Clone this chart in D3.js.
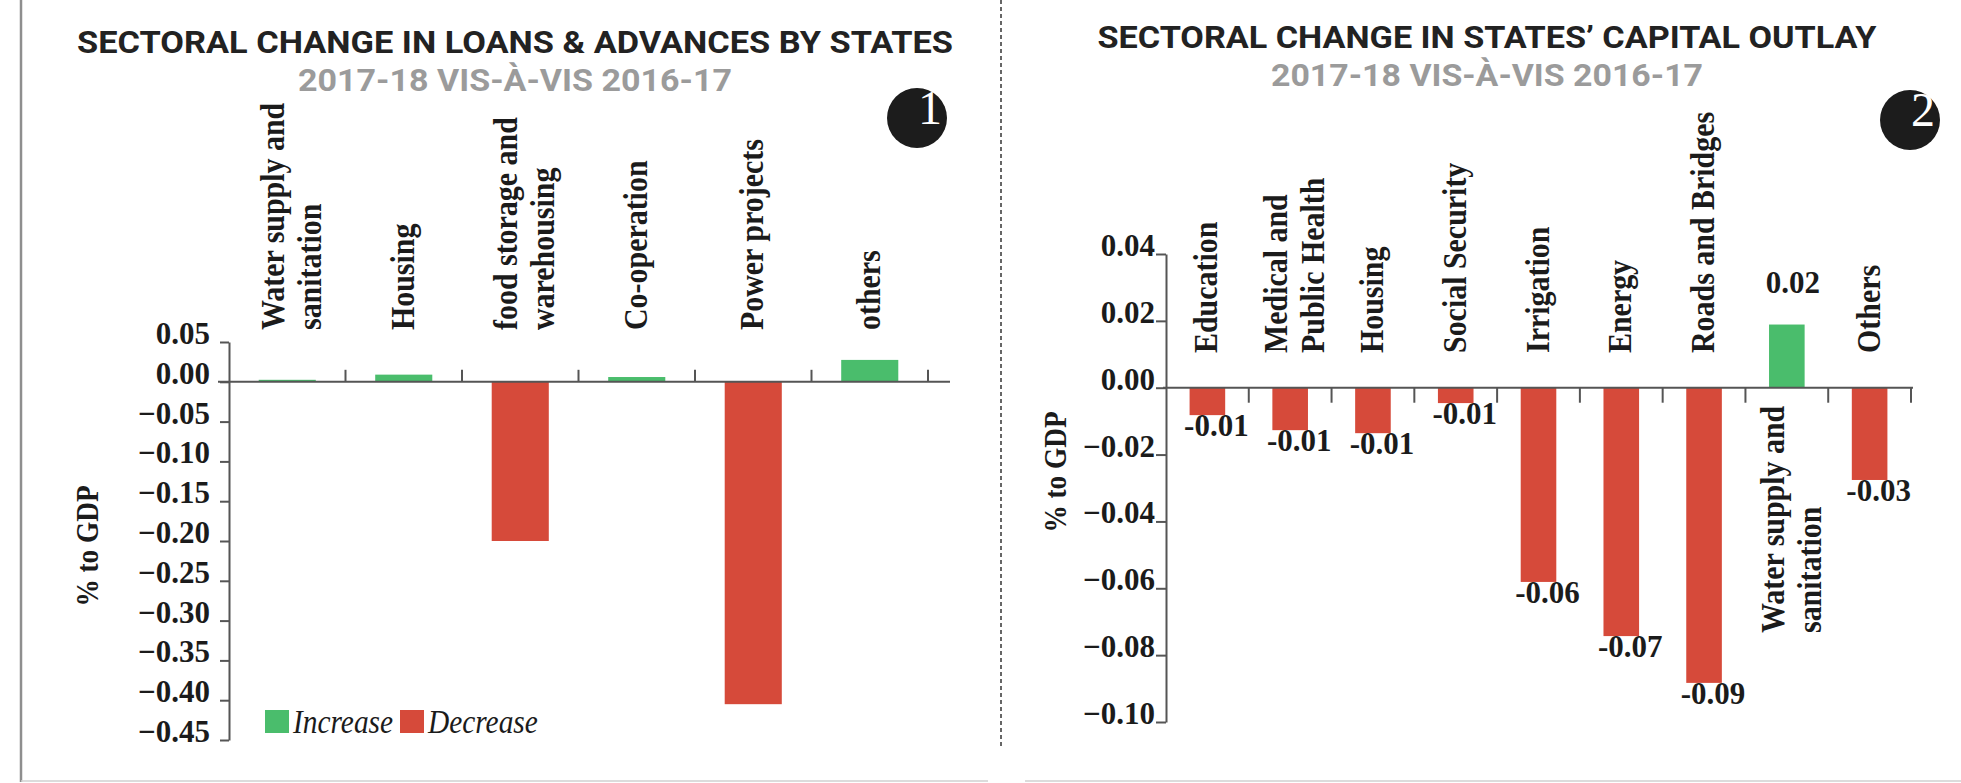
<!DOCTYPE html>
<html><head><meta charset="utf-8">
<script src="https://cdn.jsdelivr.net/npm/d3@7/dist/d3.min.js"></script>
<style>html,body{margin:0;padding:0;background:#fff;}svg{display:block;}</style>
</head><body>
<svg id="chart" width="1961" height="783"></svg>
<script>
// ---------------- DATA ----------------
const loanCategories = [["Water supply and","sanitation"],["Housing"],["food storage and","warehousing"],["Co-operation"],["Power projects"],["others"]];
const loanValues = [0.0025, 0.009, -0.200, 0.006, -0.405, 0.0275];
const loanTicks = [0.05, 0.00, -0.05, -0.10, -0.15, -0.20, -0.25, -0.30, -0.35, -0.40, -0.45];

const outlayCategories = [["Education"],["Medical and","Public Health"],["Housing"],["Social Security"],["Irrigation"],["Energy"],["Roads and Bridges"],["Water supply and","sanitation"],["Others"]];
const outlayValues = [-0.0082, -0.0127, -0.0136, -0.0046, -0.0581, -0.0743, -0.0883, 0.0189, -0.0276];
const outlayLabels = ["-0.01","-0.01","-0.01","-0.01","-0.06","-0.07","-0.09","0.02","-0.03"];
const outlayTicks = [0.04, 0.02, 0.00, -0.02, -0.04, -0.06, -0.08, -0.10];

const titles = ["SECTORAL CHANGE IN LOANS & ADVANCES BY STATES", "SECTORAL CHANGE IN STATES\u2019 CAPITAL OUTLAY"];
const subtitle = "2017-18 VIS-\u00C0-VIS 2016-17";
const panelNumbers = ["1", "2"];
const axisTitle = "% to GDP";
const legendItems = ["Increase", "Decrease"];

// ---------------- STYLE ----------------
const GREEN = "#4abd6c", RED = "#d64a3a", INK = "#1b1b1b", AXIS = "#555";
const SERIF = "'Liberation Serif','Times New Roman',serif";
const SANS = "Roboto,'Liberation Sans',Arial,sans-serif";
const SQUEEZE = 0.88;

const svg = d3.select("#chart");

function squeeze(sel, f) {
  sel.each(function() {
    const len = this.getComputedTextLength();
    d3.select(this).attr("textLength", len * f).attr("lengthAdjust", "spacingAndGlyphs");
  });
}

// frame
svg.append("line").attr("x1", 21).attr("x2", 21).attr("y1", 0).attr("y2", 782)
  .attr("stroke", "#8e8e8e").attr("stroke-width", 2.5);
svg.append("line").attr("x1", 21).attr("x2", 988).attr("y1", 781).attr("y2", 781)
  .attr("stroke", "#d0d0d0").attr("stroke-width", 1.5);
svg.append("line").attr("x1", 1025).attr("x2", 1961).attr("y1", 781).attr("y2", 781)
  .attr("stroke", "#d0d0d0").attr("stroke-width", 1.5);
svg.append("line").attr("x1", 1001).attr("x2", 1001).attr("y1", 0).attr("y2", 746)
  .attr("stroke", "#666").attr("stroke-width", 2).attr("stroke-dasharray", "4,3");

// ---------------- PANEL BUILDER ----------------
function panel(cfg) {
  const g = svg.append("g");
  // titles
  g.append("text").attr("x", cfg.titleX).attr("y", cfg.titleY).attr("text-anchor", "middle")
    .attr("font-family", SANS).attr("font-weight", 700).attr("font-size", 32).attr("fill", "#222")
    .attr("textLength", cfg.titleW).attr("lengthAdjust", "spacingAndGlyphs").text(cfg.title);
  g.append("text").attr("x", cfg.titleX).attr("y", cfg.subY).attr("text-anchor", "middle")
    .attr("font-family", SANS).attr("font-weight", 700).attr("font-size", 32).attr("fill", "#9b9b9b")
    .attr("textLength", cfg.subW).attr("lengthAdjust", "spacingAndGlyphs").text(subtitle);
  // number badge
  g.append("circle").attr("cx", cfg.badge[0]).attr("cy", cfg.badge[1]).attr("r", 30).attr("fill", "#1c1c1c");
  g.append("text").attr("x", cfg.badge[0] + 13).attr("y", cfg.badge[1] + 6).attr("text-anchor", "middle")
    .attr("font-family", SERIF).attr("font-size", 48).attr("fill", "#fff").text(cfg.number);

  const x = d3.scaleBand().domain(d3.range(cfg.values.length)).range(cfg.xRange).padding(0);
  const y = d3.scaleLinear().domain(cfg.yDomain).range(cfg.yRange);
  const y0 = y(0);
  const bw = x.bandwidth() * cfg.barFrac;

  // y axis
  const yAxis = d3.axisLeft(y).tickValues(cfg.ticks).tickFormat(d3.format(".2f"))
    .tickSize(cfg.tickSize).tickSizeOuter(0).tickPadding(cfg.tickPad);
  const ya = g.append("g").attr("transform", `translate(${cfg.xRange[0]},0)`).call(yAxis);
  ya.select(".domain").attr("stroke", AXIS).attr("stroke-width", 2);
  ya.selectAll(".tick line").attr("stroke", AXIS).attr("stroke-width", 2);
  ya.selectAll(".tick text").attr("dy", "0.05em").attr("font-family", SERIF).attr("font-weight", 700)
    .attr("font-size", 31).attr("fill", INK);

  // bars
  g.selectAll("rect.bar").data(cfg.values).join("rect").attr("class", "bar")
    .attr("x", (d, i) => x(i) + (x.bandwidth() - bw) / 2)
    .attr("width", bw)
    .attr("y", d => Math.min(y(d), y0))
    .attr("height", d => Math.abs(y(d) - y0))
    .attr("fill", d => d >= 0 ? GREEN : RED);

  // x axis line and ticks
  g.append("line").attr("x1", cfg.xLine[0]).attr("x2", cfg.xLine[1]).attr("y1", y0).attr("y2", y0)
    .attr("stroke", AXIS).attr("stroke-width", 2);
  g.selectAll("line.xt").data(cfg.values).join("line").attr("class", "xt")
    .attr("x1", (d, i) => x(i) + x.bandwidth()).attr("x2", (d, i) => x(i) + x.bandwidth())
    .attr("y1", y0).attr("y2", y0 + cfg.xTick)
    .attr("stroke", AXIS).attr("stroke-width", 2);

  // category labels (rotated)
  cfg.categories.forEach((lines, i) => {
    const cx = x(i) + x.bandwidth() / 2;
    const special = cfg.below && cfg.below.index === i;
    const baseY = special ? cfg.below.y : cfg.labelY;
    const offs = lines.length === 1 ? [10] : [-3, 34];
    lines.forEach((ln, k) => {
      const t = g.append("text")
        .attr("transform", `translate(${cx + offs[k]},${baseY}) rotate(-90)`)
        .attr("text-anchor", "start")
        .attr("font-family", SERIF).attr("font-weight", 700).attr("font-size", 34).attr("fill", INK)
        .text(ln);
      squeeze(t, SQUEEZE);
    });
  });

  // y-axis title
  const at = g.append("text").attr("transform", `translate(${cfg.axisTitle[0]},${cfg.axisTitle[1]}) rotate(-90)`)
    .attr("text-anchor", "middle").attr("font-family", SERIF).attr("font-weight", 700)
    .attr("font-size", 31).attr("fill", INK).text(axisTitle);
  squeeze(at, SQUEEZE);

  // value labels
  if (cfg.labels) {
    g.selectAll("text.val").data(cfg.values).join("text").attr("class", "val")
      .attr("x", (d, i) => x(i) + x.bandwidth() / 2 + (d < 0 ? 9 : 6))
      .attr("y", d => d < 0 ? y(d) + 21 : y(d) - 32)
      .attr("text-anchor", "middle").attr("font-family", SERIF).attr("font-weight", 700)
      .attr("font-size", 31).attr("fill", INK)
      .text((d, i) => cfg.labels[i]);
  }
  return g;
}

panel({
  title: titles[0], titleX: 515, titleY: 53, titleW: 876, subY: 91, subW: 434,
  number: panelNumbers[0], badge: [917, 118],
  categories: loanCategories, values: loanValues, ticks: loanTicks,
  xRange: [229, 928], yDomain: [-0.45, 0.05], yRange: [740, 342],
  barFrac: 0.49, tickSize: 9, tickPad: 10, xLine: [218, 950], xTick: -12,
  labelY: 330, axisTitle: [98, 546]
});

const p2 = panel({
  title: titles[1], titleX: 1487, titleY: 48, titleW: 779, subY: 86, subW: 432,
  number: panelNumbers[1], badge: [1910, 120],
  categories: outlayCategories, values: outlayValues, ticks: outlayTicks, labels: outlayLabels,
  xRange: [1166, 1911], yDomain: [-0.10, 0.04], yRange: [722, 254],
  barFrac: 0.43, tickSize: 10, tickPad: 1, xLine: [1163, 1913], xTick: 15,
  labelY: 353, below: { index: 7, y: 633 }, axisTitle: [1066, 472]
});

// legend (left panel)
const leg = svg.append("g");
[GREEN, RED].forEach((c, i) => {
  const lx = [265, 400][i];
  leg.append("rect").attr("x", lx).attr("y", 710).attr("width", 24).attr("height", 23).attr("fill", c);
  const t = leg.append("text").attr("x", lx + 28).attr("y", 733)
    .attr("font-family", SERIF).attr("font-style", "italic").attr("font-size", 33).attr("fill", INK)
    .text(legendItems[i]);
  squeeze(t, 0.89);
});
</script>
</body></html>
